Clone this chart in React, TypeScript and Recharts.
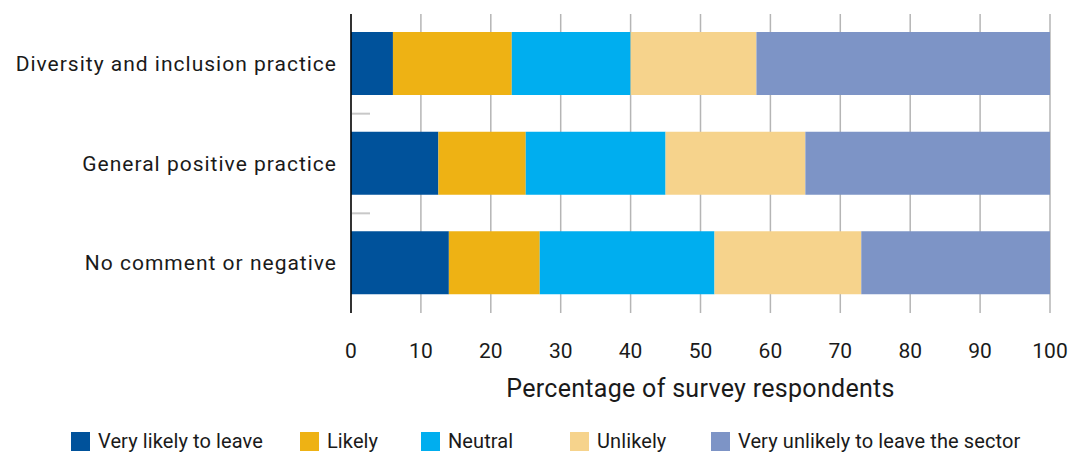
import React from 'react';
import { BarChart, Bar, XAxis, YAxis, CartesianGrid, Legend, Label } from 'recharts';

// Survey: how likely respondents are to leave the sector, by type of comment
const categories = ['Diversity and inclusion practice', 'General positive practice', 'No comment or negative'];
const veryLikely = [6, 12.5, 14];
const likely = [17, 12.5, 13];
const neutral = [17, 20, 25];
const unlikely = [18, 20, 21];
const veryUnlikely = [42, 35, 27];
const xTicks = [0, 10, 20, 30, 40, 50, 60, 70, 80, 90, 100];

const seriesNames = ['Very likely to leave', 'Likely', 'Neutral', 'Unlikely', 'Very unlikely to leave the sector'];
const seriesKeys = ['veryLikely', 'likely', 'neutral', 'unlikely', 'veryUnlikely'];
const seriesColors = ['#00529B', '#EEB214', '#00AEEF', '#F6D38C', '#7D94C6'];

const data = categories.map((name, i) => ({
  name,
  veryLikely: veryLikely[i],
  likely: likely[i],
  neutral: neutral[i],
  unlikely: unlikely[i],
  veryUnlikely: veryUnlikely[i],
}));

const FONT = 'Roboto, "DejaVu Sans", sans-serif';
const TEXT = '#1a1a1a';

// left edge of each legend slot
const LEGEND_SLOTS = [71, 300, 421, 570, 711];

const CategoryTick = (props: any) => {
  const { x, y, payload, index } = props;
  const half = payload.offset || 0;
  return (
    <g>
      <text x={x - 6} y={y} textAnchor="end" dominantBaseline="central" fontSize={21} letterSpacing={1} fill={TEXT} fontFamily={FONT}>
        {payload.value}
      </text>
      {index < categories.length - 1 && (
        <line x1={x + 9} x2={x + 27} y1={y + half} y2={y + half} stroke="#c8c8c8" strokeWidth={2} />
      )}
    </g>
  );
};

const ValueTick = (props: any) => {
  const { x, y, payload } = props;
  return (
    <text x={x} y={y + 30} textAnchor="middle" dominantBaseline="central" fontSize={21} fill={TEXT} fontFamily={FONT}>
      {payload.value}
    </text>
  );
};

const LegendContent = () => (
  <div style={{ position: 'relative', height: 26, fontFamily: FONT, fontSize: 20, letterSpacing: 0.1, color: TEXT }}>
    {seriesNames.map((name, i) => (
      <div key={name} style={{ position: 'absolute', left: LEGEND_SLOTS[i], top: 0, height: 26, display: 'flex', alignItems: 'center', whiteSpace: 'nowrap' }}>
        <span style={{ display: 'inline-block', width: 19, height: 19, background: seriesColors[i], marginRight: 8 }} />
        <span>{name}</span>
      </div>
    ))}
  </div>
);

export default function App() {
  return (
    <div style={{ position: 'absolute', left: 0, top: 0 }}>
      <BarChart
        width={1070}
        height={454}
        data={data}
        layout="vertical"
        margin={{ top: 14, right: 20, left: 0, bottom: 0 }}
        barCategoryGap={0}
        barSize={63}
      >
        <CartesianGrid horizontal={false} vertical stroke="#b5b5b5" strokeWidth={1.5} />
        <XAxis
          type="number"
          domain={[0, 100]}
          ticks={xTicks}
          interval={0}
          axisLine={false}
          tickLine={false}
          height={115}
          tick={<ValueTick />}
        >
          <Label
            content={(p: any) => {
              const vb = p.viewBox;
              return (
                <text x={vb.x + vb.width / 2} y={vb.y + 75} textAnchor="middle" dominantBaseline="central" fontSize={25} letterSpacing={0.3} fill={TEXT} fontFamily={FONT}>
                  Percentage of survey respondents
                </text>
              );
            }}
          />
        </XAxis>
        <YAxis
          type="category"
          dataKey="name"
          width={351}
          axisLine={{ stroke: '#000', strokeWidth: 1.5 }}
          tickLine={false}
          interval={0}
          tick={<CategoryTick />}
        />
        <Legend verticalAlign="bottom" height={26} wrapperStyle={{ left: 0, width: 1070 }} content={<LegendContent />} />
        {seriesKeys.map((k, i) => (
          <Bar key={k} dataKey={k} name={seriesNames[i]} stackId="a" fill={seriesColors[i]} isAnimationActive={false} />
        ))}
      </BarChart>
    </div>
  );
}
